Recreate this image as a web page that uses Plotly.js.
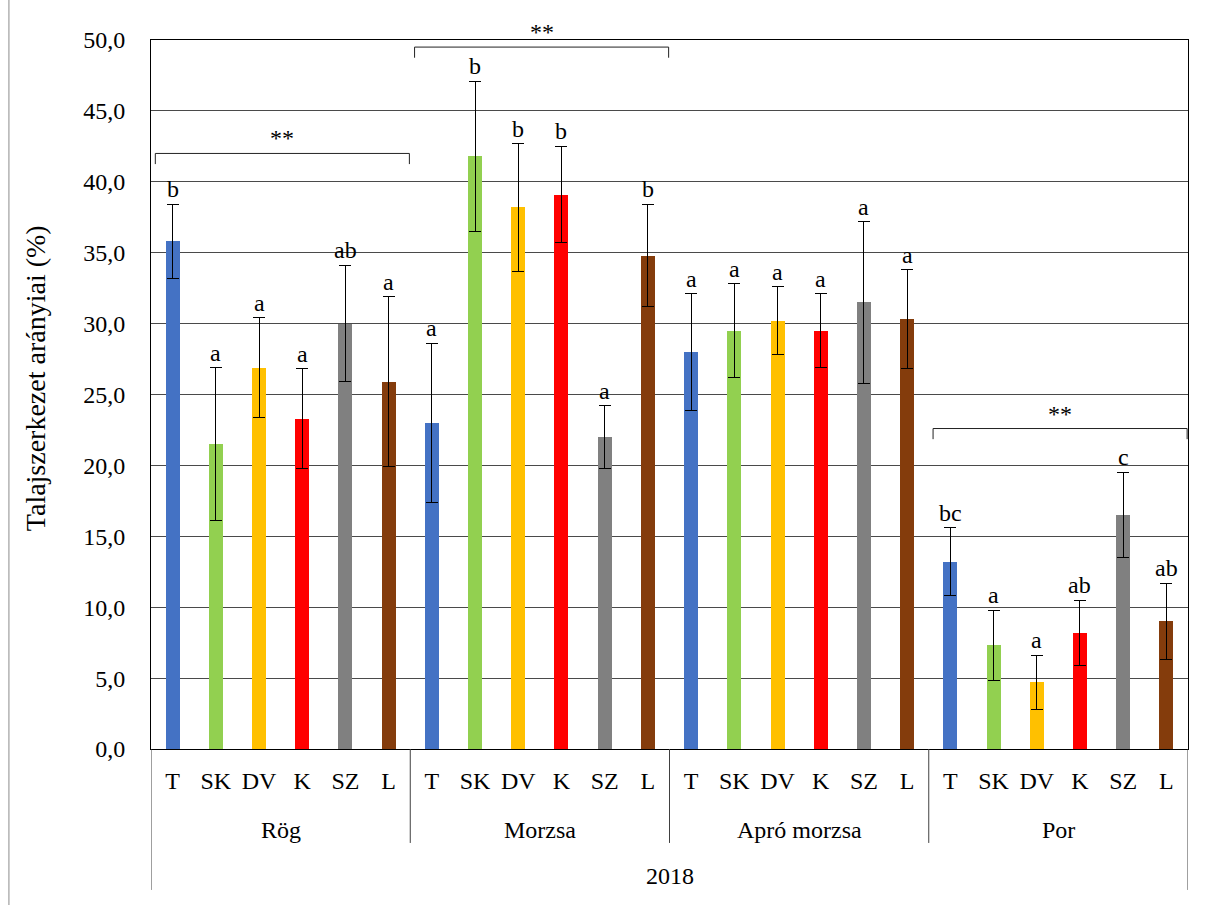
<!DOCTYPE html>
<html>
<head>
<meta charset="utf-8">
<script src="https://cdn.plot.ly/plotly-3.0.1.min.js"></script>
<style>html,body{margin:0;padding:0;background:#fff;}#chart{width:1208px;height:905px;}</style>
</head>
<body>
<div id="chart"></div>
<script>
const treatments = ['T', 'SK', 'DV', 'K', 'SZ', 'L'];
const groups = ['Rög', 'Morzsa', 'Apró morzsa', 'Por'];
const yearLabel = '2018';
const colors = ['#4472C4', '#92D050', '#FFC000', '#FF0000', '#808080', '#843C0C'];

const rogValues = [35.8, 21.5, 26.9, 23.3, 30.0, 25.9];
const rogErrors = [2.6, 5.4, 3.5, 3.5, 4.1, 6.0];
const rogLetters = ['b', 'a', 'a', 'a', 'ab', 'a'];

const morzsaValues = [23.0, 41.8, 38.2, 39.1, 22.0, 34.8];
const morzsaErrors = [5.6, 5.3, 4.5, 3.4, 2.2, 3.6];
const morzsaLetters = ['a', 'b', 'b', 'b', 'a', 'b'];

const aproValues = [28.0, 29.5, 30.2, 29.5, 31.5, 30.3];
const aproErrors = [4.1, 3.3, 2.4, 2.6, 5.7, 3.5];
const aproLetters = ['a', 'a', 'a', 'a', 'a', 'a'];

const porValues = [13.2, 7.3, 4.7, 8.2, 16.5, 9.0];
const porErrors = [2.4, 2.5, 1.9, 2.3, 3.0, 2.7];
const porLetters = ['bc', 'a', 'a', 'ab', 'c', 'ab'];

const significance = ['**', '**', '', '**'];
const bracketLevel = [42.0, 49.5, null, 22.6];

const yTitle = 'Talajszerkezet arányiai (%)';

const allValues = [rogValues, morzsaValues, aproValues, porValues];
const allErrors = [rogErrors, morzsaErrors, aproErrors, porErrors];
const allLetters = [rogLetters, morzsaLetters, aproLetters, porLetters];

const FONT = 'Liberation Serif';
const nT = treatments.length;
const pos = (gi, ti) => gi * nT + ti;

const traces = treatments.map((t, ti) => ({
  type: 'bar',
  name: t,
  x: groups.map((g, gi) => pos(gi, ti)),
  y: groups.map((g, gi) => allValues[gi][ti]),
  width: 0.324,
  marker: { color: colors[ti], line: { width: 0 } },
  error_y: {
    type: 'data',
    array: groups.map((g, gi) => allErrors[gi][ti]),
    visible: true,
    color: '#000',
    thickness: 1,
    width: 6
  },
  hoverinfo: 'x+y'
}));

const tickvals = [];
const ticktext = [];
groups.forEach((g, gi) => treatments.forEach((t, ti) => { tickvals.push(pos(gi, ti)); ticktext.push(t); }));

const annotations = [];
// letters above error bars
groups.forEach((g, gi) => treatments.forEach((t, ti) => {
  annotations.push({
    x: pos(gi, ti), y: allValues[gi][ti] + allErrors[gi][ti],
    xref: 'x', yref: 'y', text: allLetters[gi][ti], showarrow: false,
    yanchor: 'bottom', yshift: 0,
    font: { family: FONT, size: 24, color: '#000' }
  });
}));
// group labels
groups.forEach((g, gi) => {
  annotations.push({
    x: pos(gi, 0) + (nT - 1) / 2, y: 0, xref: 'x', yref: 'paper',
    text: g, showarrow: false, yanchor: 'middle', yshift: -81,
    font: { family: FONT, size: 24, color: '#000' }
  });
});
// year label
annotations.push({
  x: (groups.length * nT - 1) / 2, y: 0, xref: 'x', yref: 'paper',
  text: yearLabel, showarrow: false, yanchor: 'middle', yshift: -127,
  font: { family: FONT, size: 24, color: '#000' }
});
// y title
annotations.push({
  x: 0, y: 0.523, xref: 'paper', yref: 'paper', xshift: -116,
  text: yTitle, showarrow: false, textangle: -90,
  xanchor: 'center', yanchor: 'middle',
  font: { family: FONT, size: 28, color: '#000' }
});

const shapes = [];
// significance brackets
groups.forEach((g, gi) => {
  if (!significance[gi]) return;
  const x0 = pos(gi, 0) - 0.4, x1 = pos(gi, nT - 1) + 0.48, y = bracketLevel[gi], d = 0.75;
  shapes.push({
    type: 'path', xref: 'x', yref: 'y',
    path: `M ${x0},${y - d} L ${x0},${y} L ${x1},${y} L ${x1},${y - d}`,
    line: { color: '#222', width: 1 }
  });
  annotations.push({
    x: (x0 + x1) / 2, y: y, xref: 'x', yref: 'y', text: significance[gi],
    showarrow: false, yanchor: 'bottom', yshift: 0,
    font: { family: FONT, size: 24, color: '#000' }
  });
});
// group dividers below the axis
for (let gi = 1; gi < groups.length; gi++) {
  const xd = pos(gi, 0) - 0.5;
  shapes.push({ type: 'line', xref: 'x', yref: 'paper', x0: xd, x1: xd, y0: 0, y1: -0.1325,
    line: { color: '#404040', width: 1 } });
}
// outer dividers
[-0.5, groups.length * nT - 0.5].forEach(xd => {
  shapes.push({ type: 'line', xref: 'x', yref: 'paper', x0: xd, x1: xd, y0: 0, y1: -0.1988,
    line: { color: '#404040', width: 1 } });
});
// chart-area left edge
shapes.push({ type: 'line', xref: 'paper', yref: 'paper', x0: -0.137, x1: -0.137, y0: -0.23, y1: 1.07,
  line: { color: '#8c8c8c', width: 1 } });

const layout = {
  width: 1208, height: 905,
  margin: { l: 151, r: 20, t: 40, b: 156, pad: 0 },
  paper_bgcolor: '#fff', plot_bgcolor: '#fff',
  showlegend: false,
  separators: ', ',
  font: { family: FONT, size: 24, color: '#000' },
  bargap: 0,
  xaxis: {
    range: [-0.5, groups.length * nT - 0.5],
    tickmode: 'array', tickvals: tickvals, ticktext: ticktext,
    showgrid: false, zeroline: false,
    showline: true, linecolor: '#000', linewidth: 1, mirror: true,
    ticks: 'outside', ticklen: 10, tickcolor: 'rgba(0,0,0,0)',
    tickfont: { family: FONT, size: 24, color: '#000' },
    fixedrange: true
  },
  yaxis: {
    range: [0, 50], dtick: 5, tick0: 0, tickformat: '.1f',
    showgrid: true, gridcolor: '#4a4a4a', gridwidth: 1,
    zeroline: false,
    showline: true, linecolor: '#000', linewidth: 1, mirror: true,
    ticks: 'outside', ticklen: 20, tickcolor: 'rgba(0,0,0,0)',
    tickfont: { family: FONT, size: 24, color: '#000' },
    fixedrange: true
  },
  annotations: annotations,
  shapes: shapes
};

Plotly.newPlot('chart', traces, layout, { displayModeBar: false, staticPlot: true });
</script>
</body>
</html>
